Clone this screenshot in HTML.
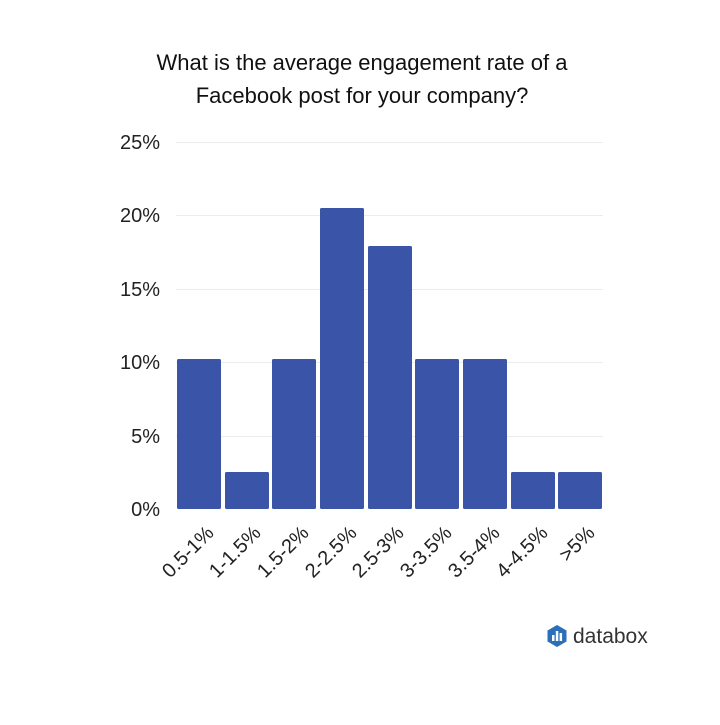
<!DOCTYPE html>
<html><head><style>
body{margin:0;width:720px;height:720px;background:#fff;overflow:hidden}
</style></head><body>
<svg width="720" height="720" xmlns="http://www.w3.org/2000/svg" font-family="Liberation Sans, sans-serif">
<text x="362" y="70" font-size="22" text-anchor="middle" fill="#111">What is the average engagement rate of a</text>
<text x="362" y="103" font-size="22" text-anchor="middle" fill="#111">Facebook post for your company?</text>
<g stroke="#ececec" stroke-width="1">
<line x1="176" x2="603" y1="142.5" y2="142.5"/>
<line x1="176" x2="603" y1="215.5" y2="215.5"/>
<line x1="176" x2="603" y1="289.5" y2="289.5"/>
<line x1="176" x2="603" y1="362.5" y2="362.5"/>
<line x1="176" x2="603" y1="436.5" y2="436.5"/>
</g>
<g font-size="20" fill="#222" text-anchor="end">
<text x="160" y="149">25%</text>
<text x="160" y="222">20%</text>
<text x="160" y="296">15%</text>
<text x="160" y="369">10%</text>
<text x="160" y="443">5%</text>
<text x="160" y="516">0%</text>
</g>
<g fill="#3a55a8">
<rect x="177" y="359" width="44" height="150" rx="1.5"/>
<rect x="225" y="472" width="44" height="37" rx="1.5"/>
<rect x="272" y="359" width="44" height="150" rx="1.5"/>
<rect x="320" y="208" width="44" height="301" rx="1.5"/>
<rect x="368" y="246" width="44" height="263" rx="1.5"/>
<rect x="415" y="359" width="44" height="150" rx="1.5"/>
<rect x="463" y="359" width="44" height="150" rx="1.5"/>
<rect x="511" y="472" width="44" height="37" rx="1.5"/>
<rect x="558" y="472" width="44" height="37" rx="1.5"/>
</g>
<g font-size="20" fill="#222" text-anchor="end">
<text transform="translate(215,534) rotate(-45)">0.5-1%</text>
<text transform="translate(262,534) rotate(-45)">1-1.5%</text>
<text transform="translate(310,534) rotate(-45)">1.5-2%</text>
<text transform="translate(358,534) rotate(-45)">2-2.5%</text>
<text transform="translate(405,534) rotate(-45)">2.5-3%</text>
<text transform="translate(453,534) rotate(-45)">3-3.5%</text>
<text transform="translate(501,534) rotate(-45)">3.5-4%</text>
<text transform="translate(549,534) rotate(-45)">4-4.5%</text>
<text transform="translate(596,534) rotate(-45)">&gt;5%</text>
</g>
<g transform="translate(557,636)">
<polygon points="0,-11 9.5,-5.5 9.5,5.5 0,11 -9.5,5.5 -9.5,-5.5" fill="#2a6fb8"/>
<rect x="-5" y="-1" width="2.5" height="6" fill="#fff"/>
<rect x="-1.2" y="-5" width="2.5" height="10" fill="#fff"/>
<rect x="2.6" y="-3" width="2.5" height="8" fill="#fff"/>
</g>
<text x="573" y="643" font-size="21" fill="#333">databox</text>
</svg>
</body></html>
